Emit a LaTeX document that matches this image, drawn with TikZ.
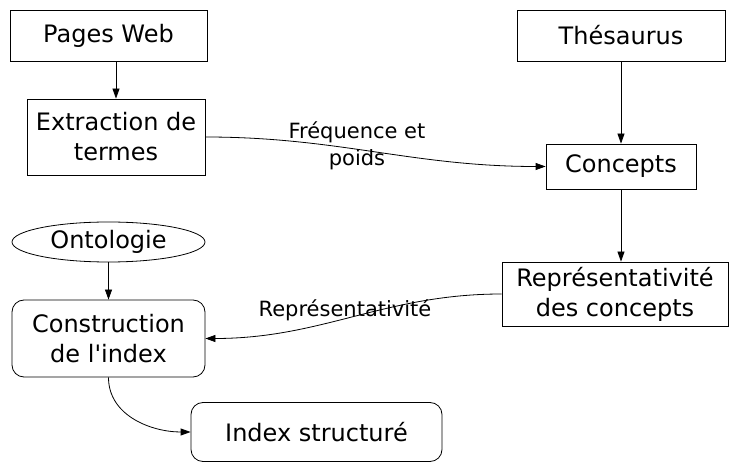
\documentclass[tikz,border=0pt]{standalone}
\usepackage{fontspec}
\setmainfont{DejaVu Sans}
\usepackage{tikz}
\usetikzlibrary{shapes}
\usetikzlibrary{positioning}
\usetikzlibrary{arrows.meta}

\begin{document}
\begin{tikzpicture}[x=1pt,y=-1pt,line width=.8pt,
  box/.style={draw,inner sep=0pt,align=center,font=\fontsize{24}{30}\selectfont},
  rbox/.style={box,rounded corners=12pt},
  lbl/.style={align=center,font=\fontsize{21}{27}\selectfont},
  fl/.style={-{Triangle[length=10pt,width=7pt]}}]
\useasboundingbox (0,0) rectangle (729,462);
% sources
\node[box,minimum width=197pt,minimum height=51pt] (pages) at (108.5,35.5) {Pages Web};
\node[box,minimum width=208pt,minimum height=51pt] (thes) at (621,35.5) {Thésaurus};
\node[box,minimum width=178pt,minimum height=76pt] (extr) at (116,137) {Extraction de\\termes};
\node[box,minimum width=150pt,minimum height=45pt] (conc) at (621,166.5) {Concepts};
\node[box,minimum width=226pt,minimum height=64pt] (repr) at (615,294) {Représentativité\\des concepts};
\node[box,ellipse,minimum width=193pt,minimum height=40pt] (onto) at (108.5,242) {Ontologie};
\node[rbox,minimum width=193pt,minimum height=77pt] (constr) at (108.5,338.5) {Construction\\de l\textquotesingle index};
\node[rbox,minimum width=251pt,minimum height=59pt] (index) at (316.5,432) {Index structuré};
% labels
\node[lbl] (freq) at (357,146) {Fréquence et\\poids};
\node[lbl] (reprlbl) at (345,310) {Représentativité};
% arrows
\draw[fl] (extr.north |- pages.south) -- (extr.north);
\draw[fl] (thes) -- (conc);
\draw[fl] (conc.south) -- (conc.south |- repr.north);
\draw[fl] (onto) -- (constr);
\draw[fl] (extr.east) to[out=0,in=180] (conc.west);
\draw[fl] (repr.west) to[out=180,in=0] (constr.east);
\draw[fl] (constr.south) to[out=-90,in=180] (index.west);
\end{tikzpicture}
\end{document}
